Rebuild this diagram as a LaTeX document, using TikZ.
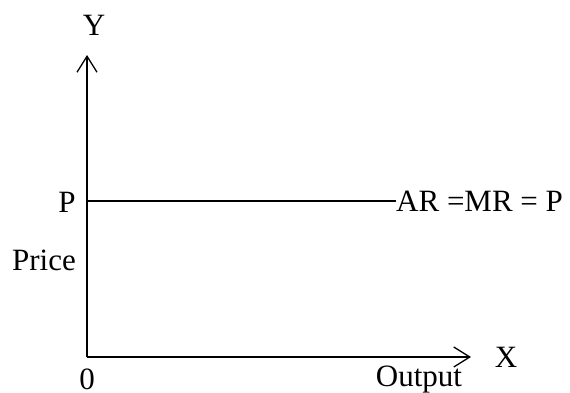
\documentclass[tikz,border=0pt]{standalone}
\usepackage{fontspec}
\setmainfont{Liberation Serif}
\usetikzlibrary{arrows.meta}
\begin{document}
\begin{tikzpicture}[x=1pt,y=-1pt,
  lbl/.style={inner sep=0pt,font=\fontsize{31}{34}\selectfont},
  axis/.style={line width=1.3pt,-{Straight Barb[length=16pt,width=20pt,line width=1.3pt]}},
  line/.style={line width=1.3pt}]
\useasboundingbox (0,0) rectangle (570,393);
\coordinate (O) at (87,357);
\coordinate (Ytop) at (87,55);
\coordinate (Xend) at (471,357);
\coordinate (Pl) at (87,201);
\draw[axis] (O) -- (Ytop);
\draw[axis] (O) -- (Xend);
\node[lbl,anchor=west] (ar) at (396,201) {AR =MR = P};
\draw[line] (Pl) -- (ar.west);
\node[lbl] (Y) at (94,25) {Y};
\node[lbl] (X) at (506,357) {X};
\node[lbl] (P) at (67,202) {P};
\node[lbl] (price) at (44,260) {Price};
\node[lbl] (zero) at (87,379) {0};
\node[lbl] (out) at (419,380) {Output};
\end{tikzpicture}
\end{document}
